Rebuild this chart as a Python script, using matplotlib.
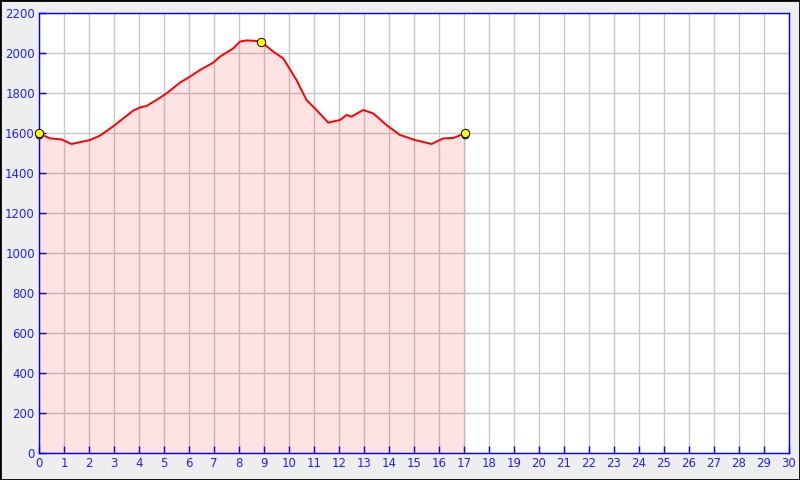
import matplotlib
matplotlib.use("Agg")
import matplotlib.pyplot as plt
import matplotlib.transforms as mtransforms
import numpy as np

# elevation profile, distance in km, elevation in m
distance_km = [0.0, 0.44, 0.9, 1.3, 1.6, 2.04, 2.44, 2.7, 3.04, 3.37, 3.77, 4.04, 4.3,
               4.7, 5.1, 5.64, 6.04, 6.44, 6.97, 7.24, 7.77, 8.04, 8.3, 8.7, 8.88,
               9.37, 9.77, 10.3, 10.7, 11.1, 11.57, 12.04, 12.3, 12.5, 12.97, 13.37,
               13.9, 14.44, 15.04, 15.7, 16.17, 16.57, 17.04]
elevation_m = [1598, 1573, 1568, 1545, 1553, 1565, 1587, 1610, 1640, 1673, 1712, 1728, 1735,
               1765, 1798, 1852, 1882, 1915, 1952, 1982, 2023, 2057, 2063, 2060, 2057,
               2007, 1973, 1865, 1765, 1715, 1652, 1665, 1690, 1682, 1715, 1698,
               1640, 1590, 1565, 1545, 1573, 1575, 1598]
# marked points: start, summit, finish
marker_idx = [0, 24, 42]

x_ticks = list(range(0, 31))
y_ticks = list(range(0, 2201, 200))

blue = "#0000ff"

fig = plt.figure(figsize=(8, 4.8), dpi=100, facecolor="#eeeeee")
ax = fig.add_axes([39 / 800, 27 / 480, 750 / 800, 440 / 480])
ax.set_facecolor("white")

ax.grid(True, color="#c8c8c8", linewidth=1)
ax.set_axisbelow(True)

x = np.array(distance_km)
y = np.array(elevation_m)
ax.fill_between(x, 0, y, color="red", alpha=0.11, linewidth=0, zorder=2)
ax.plot(x, y, color="red", linewidth=1.4, zorder=3)

mx = x[marker_idx]
my = y[marker_idx]
shift = mtransforms.offset_copy(ax.transData, fig=fig, x=0, y=-2, units="dots")
ax.plot(mx[[0, -1]], my[[0, -1]], "o", color="#33ccdd", markeredgecolor="black",
        markeredgewidth=0.6, markersize=5, transform=shift, zorder=4, clip_on=False)
ax.plot(mx, my, "o", color="yellow", markeredgecolor="black", markeredgewidth=0.7,
        markersize=6, zorder=5, clip_on=False)

ax.set_xlim(0, 30)
ax.set_ylim(0, 2200)
ax.set_xticks(x_ticks)
ax.set_yticks(y_ticks)
ax.tick_params(direction="in", length=5, width=1, color=blue, labelcolor="#2020ff",
               labelsize=8.5, pad=3)
for side in ["left", "right", "top", "bottom"]:
    ax.spines[side].set_color(blue)
    ax.spines[side].set_linewidth(1)

# outer frame around the picture
fig.patches.append(plt.Rectangle((0, 0), 1, 1, transform=fig.transFigure,
                                 fill=False, edgecolor="black", linewidth=2))

fig.savefig("out.png", dpi=100, facecolor=fig.get_facecolor())
